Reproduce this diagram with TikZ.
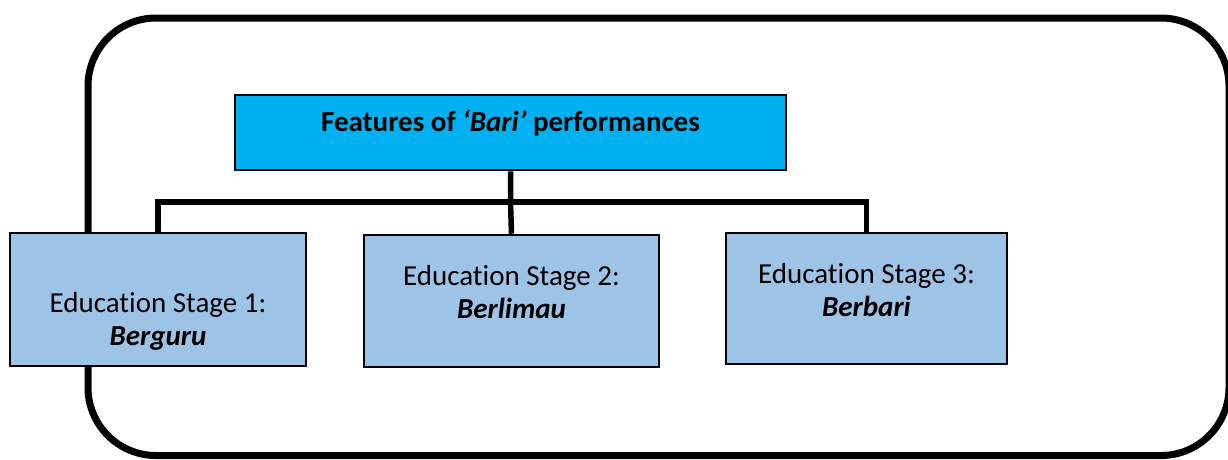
\documentclass[tikz,border=0pt]{standalone}
\usepackage{fontspec}
\setmainfont{Carlito}[Ligatures={TeX,NoCommon}]
\definecolor{headcyan}{HTML}{00B0F0}
\definecolor{stageblue}{HTML}{9DC3E6}

\begin{document}
\begin{tikzpicture}[x=1pt, y=-1pt,
    headbox/.style={draw, fill=headcyan, line width=2.5, inner sep=0, minimum width=551, minimum height=75},
    stagebox/.style={draw, fill=stageblue, line width=2.5, inner sep=0},
    stagetext/.style={align=center, inner sep=0, font=\fontsize{29}{33}\selectfont},
    conn/.style={line width=5.5}]%
      \useasboundingbox (0,0) rectangle (1228,459);%
      \draw[line width=7, rounded corners=68] (88,18) rectangle (1229,455.5);
      \node[headbox] (head) at (510.5,132.5) {};
      \node[anchor=base, inner sep=0, font=\fontsize{29}{33}\selectfont\bfseries] (head-t) at (510.5,131) {Features of \textit{`Bari'} performances};
      \coordinate (bus) at (510.5,202);
      \foreach \i/\cx/\cy/\w/\h/\ty/\name in {1/158/299.5/296/133/321/Berguru, 2/511.5/301/295/132/292.5/Berlimau, 3/866.5/298.5/281/131/290/Berbari}{%
        \node[stagebox, minimum width=\w, minimum height=\h] (S-\i) at (\cx,\cy) {};
        \node[stagetext] (T-\i) at (\cx,\ty) {Education Stage \i:\\\textbf{\textit{\name}}};
      }
      \draw[conn] (S-1.north) |- (bus) -| (S-3.north);
      \draw[conn] (head.south) -- (bus) -- (S-2.north);
    \end{tikzpicture}
\end{document}
